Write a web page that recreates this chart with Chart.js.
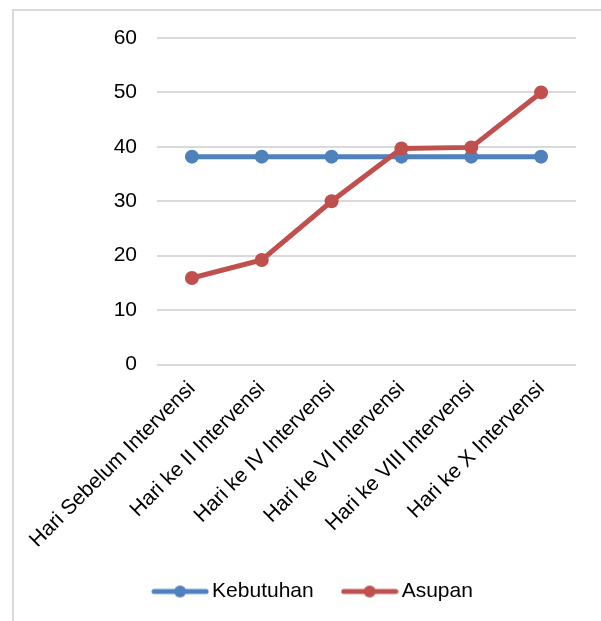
<!DOCTYPE html>
<html>
<head>
<meta charset="utf-8">
<script src="https://cdn.jsdelivr.net/npm/chart.js@4.4.1/dist/chart.umd.min.js"></script>
<style>
  html, body { margin: 0; padding: 0; background: #fff; overflow: hidden; }
  #frame { position: absolute; left: 12px; top: 9px; width: 800px; height: 800px;
           border-left: 2px solid #d9d9d9; border-top: 2px solid #d9d9d9; }
  #wrap { position: absolute; left: 0; top: 0; width: 601px; height: 621px; }
</style>
</head>
<body>
<div id="frame"></div>
<div id="wrap"><canvas id="myChart" width="601" height="621"></canvas></div>
<script>
var categories = ['Hari Sebelum Intervensi', 'Hari ke II Intervensi', 'Hari ke IV Intervensi',
                  'Hari ke VI Intervensi', 'Hari ke VIII Intervensi', 'Hari ke X Intervensi'];
var kebutuhan = [38.2, 38.2, 38.2, 38.2, 38.2, 38.2];
var asupan = [15.9, 19.2, 30, 39.7, 39.9, 50];
var yTicks = [0, 10, 20, 30, 40, 50, 60];

var blue = '#4f81bd';
var red = '#c0504d';
var font = { family: 'Liberation Sans, Arial', size: 21 };

// legend marker: line with a dot in the middle
function legendMark(color) {
  var c = document.createElement('canvas');
  c.width = 58; c.height = 14;
  var g = c.getContext('2d');
  g.strokeStyle = color;
  g.lineWidth = 5;
  g.lineCap = 'round';
  g.beginPath();
  g.moveTo(3, 7);
  g.lineTo(55, 7);
  g.stroke();
  g.fillStyle = color;
  g.beginPath();
  g.arc(29, 7, 6, 0, Math.PI * 2);
  g.fill();
  return c;
}
var marks = [legendMark(blue), legendMark(red)];

window.onload = function () {
  var ctx = document.getElementById('myChart').getContext('2d');

  new Chart(ctx, {
    type: 'line',
    data: {
      labels: categories,
      datasets: [{
        label: 'Kebutuhan',
        data: kebutuhan,
        borderColor: blue,
        backgroundColor: blue,
        pointBackgroundColor: blue,
        borderWidth: 5,
        pointRadius: 7,
        pointBorderWidth: 0,
        tension: 0,
        order: 2
      }, {
        label: 'Asupan',
        data: asupan,
        borderColor: red,
        backgroundColor: red,
        pointBackgroundColor: red,
        borderWidth: 5,
        pointRadius: 7,
        pointBorderWidth: 0,
        tension: 0,
        order: 1
      }]
    },
    options: {
      responsive: false,
      animation: false,
      events: [],
      layout: {
        padding: { left: 55.5, right: 25, top: 38, bottom: 9 }
      },
      scales: {
        x: {
          offset: true,
          grid: { display: false },
          border: { display: false },
          ticks: {
            color: '#000',
            font: font,
            minRotation: 45,
            maxRotation: 45,
            autoSkip: false,
            padding: 4
          },
          afterFit: function (scale) {
            scale.height = 182;
            scale.paddingLeft = 0;
            scale.paddingRight = 0;
          }
        },
        y: {
          min: 0,
          max: 60,
          afterBuildTicks: function (scale) {
            scale.ticks = yTicks.map(function (v) { return { value: v }; });
          },
          grid: { color: '#d9d9d9', lineWidth: 2, drawTicks: false },
          border: { display: false },
          ticks: {
            color: '#000',
            font: font,
            padding: 20
          },
          afterFit: function (scale) {
            scale.width = 101.5;
          }
        }
      },
      plugins: {
        legend: {
          position: 'bottom',
          labels: {
            usePointStyle: true,
            pointStyleWidth: 43,
            padding: 34.5,
            color: '#000',
            font: font,
            generateLabels: function (chart) {
              var items = Chart.defaults.plugins.legend.labels.generateLabels(chart);
              items.forEach(function (it) { it.pointStyle = marks[it.datasetIndex]; });
              return items;
            },
            sort: function (a, b) { return a.datasetIndex - b.datasetIndex; }
          }
        },
        tooltip: { enabled: false }
      }
    }
  });
};
</script>
</body>
</html>
